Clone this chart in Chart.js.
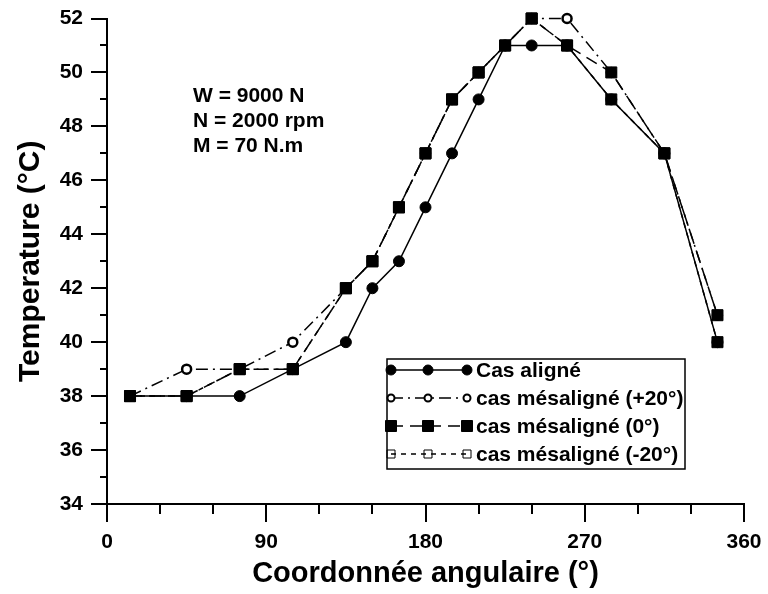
<!DOCTYPE html>
<html><head><meta charset="utf-8">
<script src="https://cdn.jsdelivr.net/npm/chart.js@4.4.1/dist/chart.umd.min.js"></script>
<style>html,body{margin:0;padding:0;background:#fff}#wrap{width:768px;height:594px}</style>
</head><body><div id="wrap"><canvas id="c" width="768" height="594"></canvas></div>
<script>
// ---- data ----
const angles   = [13, 45, 75, 105, 135, 150, 165, 180, 195, 210, 225, 240, 260, 285, 315, 345];
const aligned  = [38, 38, 38, 39, 40, 42, 43, 45, 47, 49, 51, 51, 51, 49, 47, 40];
const plus20   = [38, 39, 39, 40, 42, 43, 45, 47, 49, 50, 51, 52, 52, 50, 47, 41];
const zero     = [38, 38, 39, 39, 42, 43, 45, 47, 49, 50, 51, 52, 51, 50, 47, 41];
const minus20  = [38, 38, 39, 39, 42, 43, 45, 47, 49, 50, 51, 52, 51, 49, 47, 40];
const seriesNames = ['Cas aligné', 'cas mésaligné (+20°)', 'cas mésaligné (0°)', 'cas mésaligné (-20°)'];
const xTickValues = [0, 90, 180, 270, 360];
const yMin = 34, yMax = 52;
const annotationLines = ['W = 9000 N', 'N = 2000 rpm', 'M = 70 N.m'];
const xTitle = 'Coordonnée angulaire (°)';
const yTitle = 'Temperature (°C)';

const FONT = '"Liberation Sans", Arial, Helvetica, sans-serif';
const pts = (ys) => angles.map((a, i) => ({x: a, y: ys[i]}));

const styles = [
  {dash: [], style: 'circle', r: 5.5, fill: '#000', bw: 1, lr: 5},
  {dash: [12, 5, 2, 5], style: 'circle', r: 4.5, fill: '#fff', bw: 2.5, lr: 3.5},
  {dash: [12, 7], style: 'rect', r: 7.8, fill: '#000', bw: 1, lr: 5.5},
  {dash: [5, 5], style: 'rect', r: 7.8, fill: '#000', bw: 1, lr: 4, legendFill: 'rgba(255,255,255,0)'}
];
const seriesData = [aligned, plus20, zero, minus20];
const orders = [3, 2, 0, 1];

const datasets = seriesData.map((d, i) => ({
  label: seriesNames[i],
  data: pts(d),
  borderColor: '#000',
  borderWidth: 1.5,
  borderDash: styles[i].dash,
  pointStyle: styles[i].style,
  pointRadius: styles[i].r,
  pointBackgroundColor: styles[i].fill,
  pointBorderColor: '#000',
  pointBorderWidth: styles[i].bw,
  fill: false,
  tension: 0,
  clip: false,
  order: orders[i]
}));

function marker(ctx, style, x, y, r, fill, bw) {
  ctx.save();
  ctx.setLineDash([]);
  ctx.fillStyle = fill; ctx.strokeStyle = '#000'; ctx.lineWidth = bw;
  ctx.beginPath();
  if (style === 'circle') ctx.arc(x, y, r, 0, Math.PI * 2);
  else ctx.rect(x - r, y - r, 2 * r, 2 * r);
  ctx.fill(); ctx.stroke();
  ctx.restore();
}

function zeroPad(s) { s.paddingTop = 0; s.paddingBottom = 0; s.paddingLeft = 0; s.paddingRight = 0; }

const decor = {
  id: 'decor',
  afterDraw(chart) {
    const ctx = chart.ctx, xs = chart.scales.x, ys = chart.scales.y;
    const ca = chart.chartArea;
    ctx.save();
    ctx.strokeStyle = '#000'; ctx.lineWidth = 2; ctx.setLineDash([]);
    // x ticks
    for (let v = 0; v <= 360; v += 30) {
      const px = Math.round(xs.getPixelForValue(v));
      const len = v % 90 === 0 ? 18 : 10;
      ctx.beginPath(); ctx.moveTo(px, ca.bottom); ctx.lineTo(px, ca.bottom + len); ctx.stroke();
    }
    // y ticks
    for (let v = yMin; v <= yMax; v += 1) {
      const py = Math.round(ys.getPixelForValue(v));
      const len = v % 2 === 0 ? 16 : 7;
      ctx.beginPath(); ctx.moveTo(ca.left, py); ctx.lineTo(ca.left - len, py); ctx.stroke();
    }
    ctx.fillStyle = '#000';
    // titles
    ctx.textAlign = 'center'; ctx.textBaseline = 'middle';
    ctx.font = 'bold 29px ' + FONT;
    ctx.fillText(xTitle, (ca.left + ca.right) / 2, 574);
    ctx.save();
    ctx.font = 'bold 30px ' + FONT;
    ctx.translate(31, (ca.top + ca.bottom) / 2);
    ctx.rotate(-Math.PI / 2);
    ctx.fillText(yTitle, 0, 0);
    ctx.restore();
    // annotation
    ctx.font = 'bold 21px ' + FONT;
    ctx.textAlign = 'left'; ctx.textBaseline = 'alphabetic';
    annotationLines.forEach((t, i) => ctx.fillText(t, 193, 102 + i * 25));
    // legend
    const bx = 387, by = 359, bw = 298, bh = 110;
    ctx.fillStyle = '#fff';
    ctx.fillRect(bx, by, bw, bh);
    ctx.lineWidth = 1.5; ctx.strokeStyle = '#000';
    ctx.strokeRect(bx, by, bw, bh);
    const mx = [391, 428, 467];
    seriesNames.forEach((name, i) => {
      const y = 370 + i * 28;
      const s = styles[i];
      ctx.save();
      ctx.lineWidth = 1.5; ctx.setLineDash(s.dash);
      ctx.beginPath(); ctx.moveTo(mx[0], y); ctx.lineTo(mx[2], y); ctx.stroke();
      ctx.restore();
      mx.forEach(x => marker(ctx, s.style, x, y, s.lr, s.legendFill || s.fill, s.style === 'circle' && s.fill === '#fff' ? 2 : 1));
      ctx.fillStyle = '#000';
      ctx.font = 'bold 21px ' + FONT;
      ctx.textAlign = 'left'; ctx.textBaseline = 'middle';
      ctx.fillText(name, 476, y + 1);
    });
    ctx.restore();
  }
};

new Chart(document.getElementById('c'), {
  type: 'line',
  data: {datasets},
  options: {
    responsive: false,
    animation: false,
    devicePixelRatio: 1,
    layout: {padding: {top: 18.5, right: 24, left: 0, bottom: 0}},
    plugins: {legend: {display: false}, tooltip: {enabled: false}},
    scales: {
      x: {
        type: 'linear', min: 0, max: 360,
        afterBuildTicks: (s) => { s.ticks = xTickValues.map(v => ({value: v})); },
        ticks: {color: '#000', font: {family: FONT, size: 21, weight: 'bold'}, padding: 26, maxRotation: 0},
        grid: {display: false, drawTicks: false},
        border: {display: true, color: '#000', width: 2},
        afterFit: (s) => { s.height = 90; zeroPad(s); }
      },
      y: {
        type: 'linear', min: yMin, max: yMax,
        ticks: {stepSize: 2, color: '#000', font: {family: FONT, size: 21, weight: 'bold'}, padding: 24},
        grid: {display: false, drawTicks: false},
        border: {display: true, color: '#000', width: 2},
        afterFit: (s) => { s.width = 107; zeroPad(s); }
      }
    }
  },
  plugins: [decor]
});
</script>
</body></html>
